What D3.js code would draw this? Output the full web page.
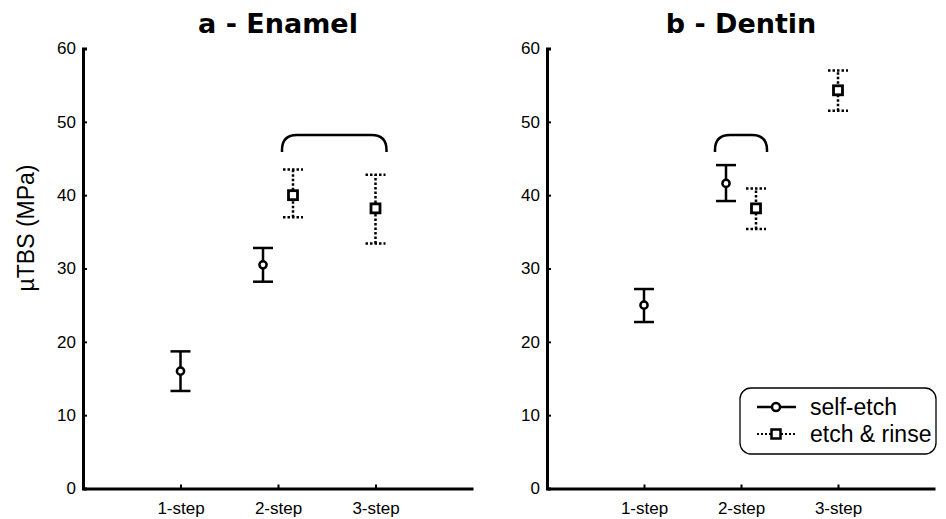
<!DOCTYPE html>
<html>
<head>
<meta charset="utf-8">
<script src="https://cdn.jsdelivr.net/npm/d3@7"></script>
<style>
  body { margin: 0; background: #fff; }
  svg { display: block; }
  .tick text { font-family: "Liberation Sans", Arial, sans-serif; font-size: 17px; fill: #000; }
</style>
</head>
<body>
<svg id="chart" width="946" height="519"></svg>
<script>
  'use strict';

  // categories / series
  var categories = ['1-step', '2-step', '3-step'];
  var seriesNames = ['self-etch', 'etch & rinse'];
  var yTicks = [0, 10, 20, 30, 40, 50, 60];

  // a - Enamel (null = not tested)
  var enamelSelfMean  = [16.0, 30.5, null];
  var enamelSelfLow   = [13.3, 28.2, null];
  var enamelSelfHigh  = [18.7, 32.8, null];
  var enamelRinseMean = [null, 40.0, 38.2];
  var enamelRinseLow  = [null, 37.0, 33.4];
  var enamelRinseHigh = [null, 43.5, 42.8];

  // b - Dentin
  var dentinSelfMean  = [25.0, 41.6, null];
  var dentinSelfLow   = [22.7, 39.2, null];
  var dentinSelfHigh  = [27.2, 44.1, null];
  var dentinRinseMean = [null, 38.2, 54.3];
  var dentinRinseLow  = [null, 35.4, 51.5];
  var dentinRinseHigh = [null, 40.9, 57.0];

  // comparison brackets: [series, category] pairs and level (MPa)
  var enamelBracket = [[1, 1], [1, 2]];
  var dentinBracket = [[0, 1], [1, 1]];
  var bracketLevel = [48.2, 48.2];

(function () {

  var svg = d3.select('#chart');
  var yTop = 48.5, yBottom = 488.5, dodge = 15;

  var y = d3.scaleLinear().domain([0, 60]).range([yBottom, yTop]);

  function drawPanel(title, x0, x1, series, bracket, level) {
    var x = d3.scaleLinear().domain([0, 4]).range([x0, x1]);
    var g = svg.append('g');

    // position of a point, dodged when both series share a category
    var px = function (s, c) {
      var both = series[0].mean[c] != null && series[1].mean[c] != null;
      return x(c + 1) + (both ? (s === 0 ? -dodge : dodge) : 0);
    };

    var yAxis = g.append('g')
      .attr('transform', 'translate(' + x0 + ',0)')
      .call(d3.axisLeft(y).tickValues(yTicks).tickSize(-4).tickPadding(7));
    var xAxis = g.append('g')
      .attr('transform', 'translate(0,' + yBottom + ')')
      .call(d3.axisBottom(x).tickValues([1, 2, 3]).tickSize(-4).tickSizeOuter(0).tickPadding(13)
        .tickFormat(function (d) { return categories[d - 1]; }));
    [yAxis, xAxis].forEach(function (a) {
      a.select('.domain').attr('stroke', '#000').attr('stroke-width', 3);
      a.selectAll('.tick line').attr('stroke', '#000').attr('stroke-width', 2);
    });

    g.append('text')
      .attr('x', (x0 + x1) / 2)
      .attr('y', 33)
      .attr('text-anchor', 'middle')
      .style('font-family', '"DejaVu Sans", Verdana, sans-serif')
      .style('font-weight', 'bold')
      .style('font-size', '27px')
      .text(title);

    // bracket
    var bx0 = px(bracket[0][0], bracket[0][1]) - 11;
    var bx1 = px(bracket[1][0], bracket[1][1]) + 11;
    var by = y(level), r = 15, drop = 17;
    g.append('path')
      .attr('d', 'M' + bx0 + ',' + (by + drop) + 'V' + (by + drop - 2) +
        'Q' + bx0 + ',' + by + ' ' + (bx0 + r) + ',' + by +
        'H' + (bx1 - r) +
        'Q' + bx1 + ',' + by + ' ' + bx1 + ',' + (by + drop - 2) + 'V' + (by + drop))
      .attr('fill', 'none').attr('stroke', '#000').attr('stroke-width', 2.5);

    series.forEach(function (ser, s) {
      var dash = s === 0 ? null : '2.5,2';
      var pts = categories.map(function (c, i) { return i; })
        .filter(function (i) { return ser.mean[i] != null; });
      var eg = g.append('g');
      pts.forEach(function (i) {
        var cx = px(s, i);
        eg.append('line')
          .attr('x1', cx).attr('x2', cx)
          .attr('y1', y(ser.low[i])).attr('y2', y(ser.high[i]))
          .attr('stroke', '#000').attr('stroke-width', 2.5).attr('stroke-dasharray', dash);
        [ser.low[i], ser.high[i]].forEach(function (v) {
          eg.append('line')
            .attr('x1', cx - 10).attr('x2', cx + 10)
            .attr('y1', y(v)).attr('y2', y(v))
            .attr('stroke', '#000').attr('stroke-width', 2.5).attr('stroke-dasharray', dash);
        });
        if (s === 0) {
          eg.append('circle').attr('cx', cx).attr('cy', y(ser.mean[i])).attr('r', 3.6)
            .attr('fill', '#fff').attr('stroke', '#000').attr('stroke-width', 2.5);
        } else {
          eg.append('rect').attr('x', cx - 4.5).attr('y', y(ser.mean[i]) - 4.5)
            .attr('width', 9).attr('height', 9)
            .attr('fill', '#fff').attr('stroke', '#000').attr('stroke-width', 2.8);
        }
      });
    });
    return g;
  }

  drawPanel('a - Enamel', 83, 473, [
    { mean: enamelSelfMean, low: enamelSelfLow, high: enamelSelfHigh },
    { mean: enamelRinseMean, low: enamelRinseLow, high: enamelRinseHigh }
  ], enamelBracket, bracketLevel[0]);

  drawPanel('b - Dentin', 547, 935, [
    { mean: dentinSelfMean, low: dentinSelfLow, high: dentinSelfHigh },
    { mean: dentinRinseMean, low: dentinRinseLow, high: dentinRinseHigh }
  ], dentinBracket, bracketLevel[1]);

  // y axis label
  svg.append('text')
    .attr('transform', 'translate(34,228) rotate(-90)')
    .attr('text-anchor', 'middle')
    .style('font-family', '"Liberation Sans", Arial, sans-serif')
    .style('font-size', '23px')
    .text('\u00b5TBS (MPa)');

  // legend
  var lg = svg.append('g').attr('transform', 'translate(740,388)');
  lg.append('rect').attr('width', 196).attr('height', 66).attr('rx', 11)
    .attr('fill', '#fff').attr('stroke', '#000').attr('stroke-width', 1.3);
  seriesNames.forEach(function (name, i) {
    var ly = 19 + i * 27;
    lg.append('line').attr('x1', 17).attr('x2', 56).attr('y1', ly).attr('y2', ly)
      .attr('stroke', '#000').attr('stroke-width', i === 0 ? 2.5 : 2)
      .attr('stroke-dasharray', i === 0 ? null : '2,2');
    if (i === 0) {
      lg.append('circle').attr('cx', 36).attr('cy', ly).attr('r', 4)
        .attr('fill', '#fff').attr('stroke', '#000').attr('stroke-width', 2.5);
    } else {
      lg.append('rect').attr('x', 31.5).attr('y', ly - 4.5).attr('width', 9).attr('height', 9)
        .attr('fill', '#fff').attr('stroke', '#000').attr('stroke-width', 2.5);
    }
    lg.append('text').attr('x', 70).attr('y', ly + 8)
      .style('font-family', '"Liberation Sans", Arial, sans-serif')
      .style('font-size', '23px')
      .text(name);
  });

})();
</script>
</body>
</html>
